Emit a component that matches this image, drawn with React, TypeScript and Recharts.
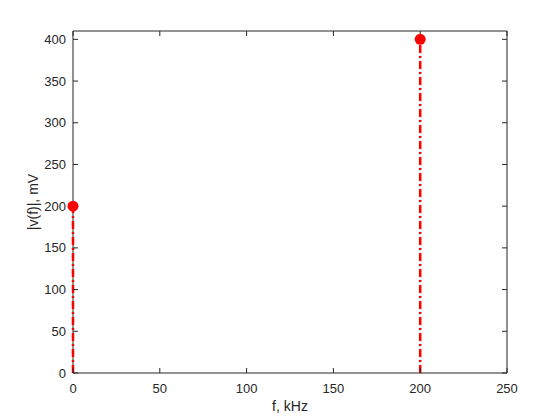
import { ComposedChart, Scatter, XAxis, YAxis, ReferenceLine, ReferenceArea, Label } from 'recharts'

const freqs = [0, 200]
const amps = [200, 400]
const xTicks = [0, 50, 100, 150, 200, 250]
const yTicks = [0, 50, 100, 150, 200, 250, 300, 350, 400]
const xDomain = [0, 250]
const yDomain = [0, 410]

const points = freqs.map((f, i) => ({ f, v: amps[i] }))

const axisColor = '#262626'
const font = "'Liberation Sans', Arial, sans-serif"
const tickStyle = { fontSize: 13, fill: axisColor, fontFamily: font }
const noText = () => ''

const Marker = (p: any) => <circle cx={p.cx} cy={p.cy} r={5.5} fill="#ff0000" />
const Nothing = () => <g />

const YLabel = (props: any) => {
  const vb = props.viewBox || { x: 0, y: 31, width: 73, height: 342 }
  const cx = vb.x + 33
  const cy = vb.y + vb.height / 2
  return (
    <text
      x={cx}
      y={cy}
      transform={`rotate(-90 ${cx} ${cy})`}
      textAnchor="middle"
      dominantBaseline="central"
      fontSize={14}
      fill={axisColor}
      fontFamily={font}
    >
      |v(f)|, mV
    </text>
  )
}

export default function App() {
  return (
    <div style={{ position: 'absolute', left: 0, top: 0, width: 560, height: 420, background: '#fff' }}>
      <ComposedChart width={560} height={420} data={points} margin={{ top: 31, right: 53, left: 0, bottom: 0 }}>
        {/* labels only */}
        <XAxis
          dataKey="f"
          type="number"
          domain={xDomain}
          ticks={xTicks}
          height={47}
          tick={tickStyle}
          tickLine={false}
          tickSize={0}
          axisLine={false}
          tickMargin={11}
        >
          <Label value="f, kHz" position="insideBottom" offset={9} style={{ fontSize: 14, fill: axisColor, fontFamily: font }} />
        </XAxis>
        <YAxis
          dataKey="v"
          type="number"
          domain={yDomain}
          ticks={yTicks}
          width={73}
          tick={tickStyle}
          tickLine={false}
          tickSize={0}
          axisLine={false}
          tickMargin={7}
          label={{ content: YLabel }}
        />
        {/* inward tick marks on all four sides */}
        <XAxis xAxisId="b" dataKey="f" orientation="bottom" mirror type="number" domain={xDomain} ticks={xTicks}
          tickFormatter={noText} tickSize={5} axisLine={false} tickLine={{ stroke: axisColor }} />
        <XAxis xAxisId="t" dataKey="f" orientation="top" mirror type="number" domain={xDomain} ticks={xTicks}
          tickFormatter={noText} tickSize={5} axisLine={false} tickLine={{ stroke: axisColor }} />
        <YAxis yAxisId="l" dataKey="v" orientation="left" mirror type="number" domain={yDomain} ticks={yTicks}
          tickFormatter={noText} tickSize={5} axisLine={false} tickLine={{ stroke: axisColor }} />
        <YAxis yAxisId="r" dataKey="v" orientation="right" mirror type="number" domain={yDomain} ticks={yTicks}
          tickFormatter={noText} tickSize={5} axisLine={false} tickLine={{ stroke: axisColor }} />
        <Scatter data={points} dataKey="v" xAxisId="b" yAxisId="l" shape={Nothing} isAnimationActive={false} />
        <Scatter data={points} dataKey="v" xAxisId="t" yAxisId="r" shape={Nothing} isAnimationActive={false} />
        <ReferenceArea x1={xDomain[0]} x2={xDomain[1]} y1={yDomain[0]} y2={yDomain[1]}
          fill="none" fillOpacity={0} stroke={axisColor} strokeWidth={1} />
        {points.map((p) => (
          <ReferenceLine
            key={p.f}
            segment={[{ x: p.f, y: 0 }, { x: p.f, y: p.v }]}
            stroke="#ff0000"
            strokeWidth={2.5}
            strokeDasharray="8 3 2 3"
          />
        ))}
        <Scatter data={points} dataKey="v" shape={Marker} isAnimationActive={false} />
      </ComposedChart>
    </div>
  )
}
